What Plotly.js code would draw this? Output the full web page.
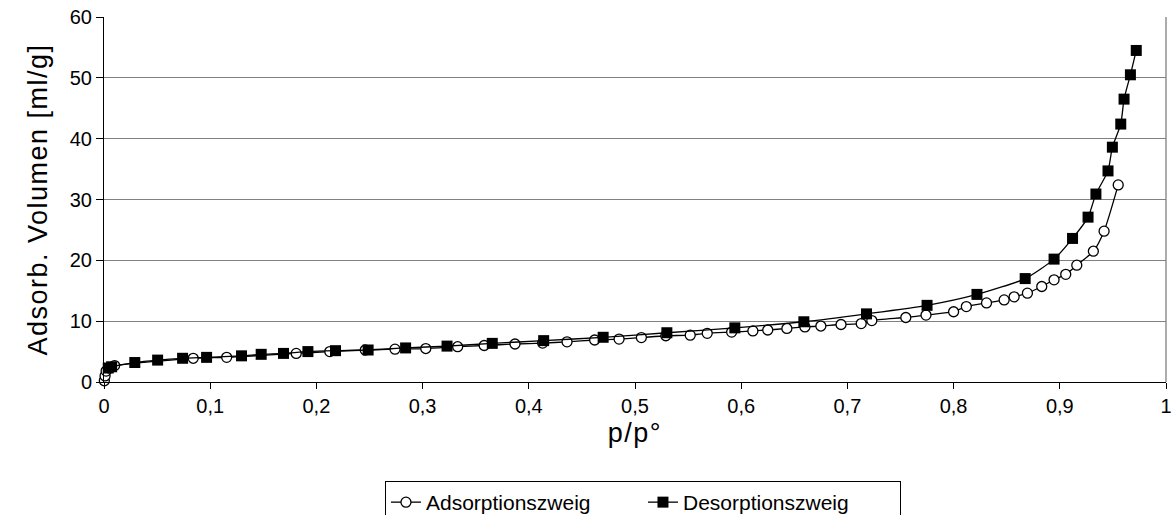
<!DOCTYPE html>
<html>
<head>
<meta charset="utf-8">
<script src="https://cdn.plot.ly/plotly-3.0.1.min.js"></script>
<style>
  html, body { margin: 0; padding: 0; background: #ffffff; }
  #chart { width: 1173px; height: 515px; }
  #chart .xtitle, #chart .ytitle { letter-spacing: 1.5px; }
</style>
</head>
<body>
<div id="chart"></div>
<script>
// Adsorptionszweig (open circles)
const adsX = [0.0003, 0.001, 0.002, 0.005, 0.01, 0.084, 0.1155, 0.181, 0.2126, 0.246, 0.274, 0.303, 0.333, 0.358, 0.387, 0.413, 0.436, 0.462, 0.485, 0.506, 0.529, 0.552, 0.568, 0.591, 0.611, 0.625, 0.643, 0.66, 0.675, 0.694, 0.713, 0.723, 0.755, 0.774, 0.80, 0.812, 0.831, 0.8476, 0.857, 0.8695, 0.883, 0.8946, 0.9056, 0.916, 0.9316, 0.9417, 0.955];
const adsY = [0.2, 1.0, 1.8, 2.3, 2.7, 3.9, 4.05, 4.7, 5.0, 5.26, 5.4, 5.5, 5.8, 6.0, 6.25, 6.4, 6.6, 6.9, 7.05, 7.3, 7.6, 7.7, 8.0, 8.2, 8.4, 8.55, 8.8, 9.05, 9.2, 9.45, 9.6, 10.1, 10.6, 11.0, 11.55, 12.4, 13.0, 13.5, 14.0, 14.6, 15.7, 16.8, 17.7, 19.2, 21.5, 24.8, 32.4];

// Desorptionszweig (filled squares)
const desX = [0.004, 0.0072, 0.029, 0.0505, 0.074, 0.0966, 0.1295, 0.148, 0.169, 0.192, 0.218, 0.2487, 0.284, 0.323, 0.3656, 0.414, 0.47, 0.530, 0.594, 0.659, 0.718, 0.775, 0.822, 0.8674, 0.8946, 0.912, 0.9266, 0.934, 0.9454, 0.9495, 0.9574, 0.9605, 0.9665, 0.972];
const desY = [2.3, 2.5, 3.2, 3.6, 3.9, 4.05, 4.3, 4.55, 4.7, 5.0, 5.15, 5.26, 5.6, 5.9, 6.35, 6.8, 7.35, 8.1, 8.9, 9.9, 11.2, 12.6, 14.4, 17.0, 20.2, 23.6, 27.1, 30.9, 34.7, 38.6, 42.4, 46.5, 50.5, 54.5];

const seriesNames = ["Adsorptionszweig", "Desorptionszweig"];
const xTitle = "p/p°";
const yTitle = "Adsorb. Volumen [ml/g]";

const FONT = "Liberation Sans, Arial, sans-serif";

const traces = [
  {
    x: adsX, y: adsY, name: seriesNames[0],
    type: "scatter", mode: "lines+markers", cliponaxis: false,
    line: { color: "#000000", width: 1.3, shape: "spline", smoothing: 0.6 },
    marker: { symbol: "circle", size: 10, color: "#ffffff", line: { color: "#000000", width: 1.3 } }
  },
  {
    x: desX, y: desY, name: seriesNames[1],
    type: "scatter", mode: "lines+markers", cliponaxis: false,
    line: { color: "#000000", width: 1.3, shape: "spline", smoothing: 0.6 },
    marker: { symbol: "square", size: 11, color: "#000000", line: { color: "#000000", width: 0 } }
  }
];

const layout = {
  width: 1173, height: 515,
  margin: { l: 104, r: 7, t: 17, b: 133, autoexpand: false },
  paper_bgcolor: "#ffffff", plot_bgcolor: "#ffffff",
  separators: ", ",
  font: { family: FONT, size: 20, color: "#000000" },
  showlegend: true,
  legend: {
    orientation: "h", x: 0.5075, xanchor: "center", y: -0.2712, yanchor: "top",
    bordercolor: "#000000", borderwidth: 1, bgcolor: "#ffffff",
    font: { family: FONT, size: 21, color: "#000000" },
    itemwidth: 30, traceorder: "normal", tracegroupgap: 0,
    entrywidth: 212, entrywidthmode: "pixels"
  },
  xaxis: {
    range: [0, 1], dtick: 0.1, tick0: 0,
    showgrid: false, zeroline: false,
    showline: true, linecolor: "#000000", linewidth: 1,
    ticks: "outside", ticklen: 6, tickcolor: "#000000", tickwidth: 1,
    tickfont: { family: FONT, size: 20, color: "#000000" },
    title: { text: xTitle, font: { family: FONT, size: 27, color: "#000000" }, standoff: 7 }
  },
  yaxis: {
    range: [0, 60], dtick: 10, tick0: 0,
    showgrid: true, gridcolor: "#808080", gridwidth: 1.3,
    zeroline: false,
    showline: true, linecolor: "#000000", linewidth: 1,
    ticks: "outside", ticklen: 7, tickcolor: "#000000", tickwidth: 1,
    tickfont: { family: FONT, size: 20, color: "#000000" },
    title: { text: yTitle, font: { family: FONT, size: 27, color: "#000000" }, standoff: 14 }
  },
  shapes: [
    { type: "line", xref: "paper", yref: "paper", x0: 1, x1: 1, y0: 0, y1: 1,
      line: { color: "#808080", width: 1.3 } }
  ]
};

Plotly.newPlot("chart", traces, layout, { displayModeBar: false, staticPlot: true });
</script>
</body>
</html>
